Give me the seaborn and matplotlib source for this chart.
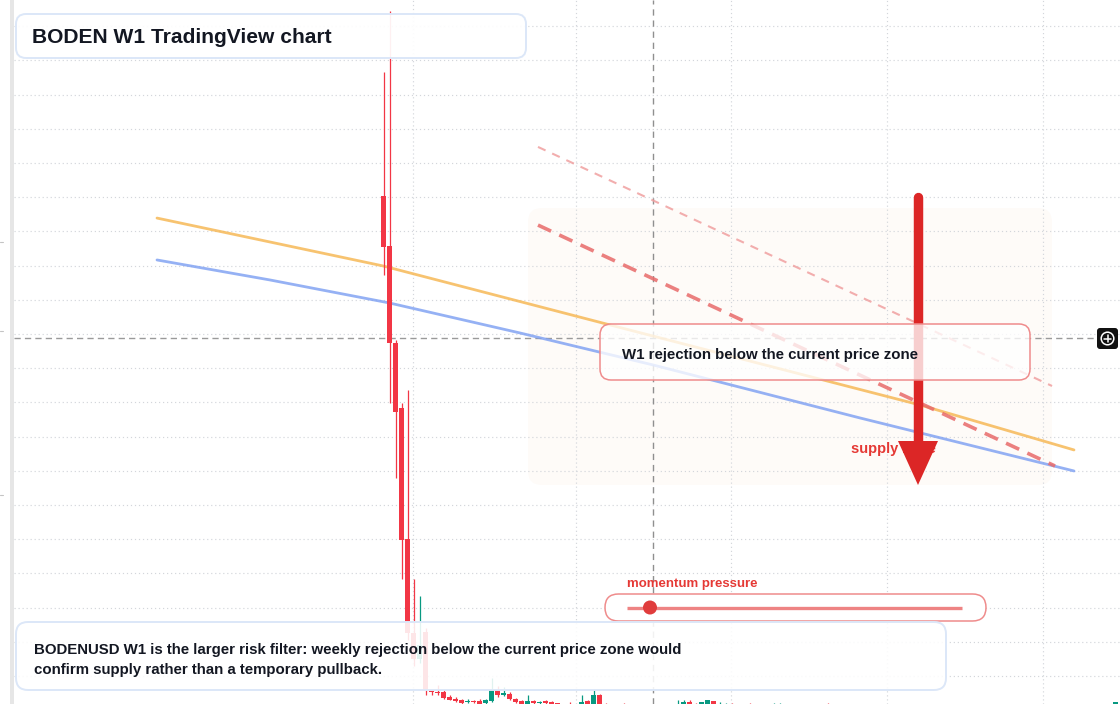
import numpy as np
import pandas as pd
import matplotlib
matplotlib.use("Agg")
import matplotlib.pyplot as plt
import seaborn as sns
from matplotlib.patches import FancyBboxPatch, Polygon, Circle, Rectangle
from matplotlib.lines import Line2D
from matplotlib.transforms import Affine2D

# ---------------- data (weekly candles, BODENUSD) ----------------
weeks = [0, 1, 2, 3, 4, 5, 6, 7, 8, 9, 10, 11, 12, 13, 14, 15, 16, 17, 18, 19,
         20, 21, 22, 23, 24, 25, 26, 27, 28, 29, 31, 33, 34, 35, 36, 37, 40,
         49, 50, 51, 52, 53, 54, 55, 56, 57, 58, 61, 65, 66, 74, 122]
opens = [0.3007, 0.2715, 0.2147, 0.1767, 0.1001, 0.0451, 0.0299, 0.0457, 0.0112, 0.0106,
         0.0106, 0.0077, 0.0065, 0.0060, 0.0048, 0.0054, 0.0054, 0.0042, 0.0054, 0.0118,
         0.0089, 0.0095, 0.0065, 0.0054, 0.0036, 0.0054, 0.0042, 0.0054, 0.0048, 0.0042,
         0.0032, 0.0030, 0.0054, 0.0030, 0.0089, 0.0033, 0.0032,
         0.0028, 0.0030, 0.0048, 0.0033, 0.0030, 0.0030, 0.0054, 0.0030, 0.0028, 0.0033,
         0.0033, 0.0028, 0.0028, 0.0033, 0.0030]
highs = [0.3732, 0.4089, 0.2165, 0.1797, 0.1873, 0.0767, 0.0668, 0.0481, 0.0118, 0.0147,
         0.0118, 0.0089, 0.0077, 0.0065, 0.0065, 0.0060, 0.0065, 0.0065, 0.0188, 0.0142,
         0.0136, 0.0106, 0.0071, 0.0060, 0.0089, 0.0060, 0.0051, 0.0060, 0.0051, 0.0045,
         0.0048, 0.0089, 0.0060, 0.0118, 0.0095, 0.0042, 0.0040,
         0.0060, 0.0060, 0.0060, 0.0045, 0.0050, 0.0062, 0.0055, 0.0048, 0.0045, 0.0042,
         0.0042, 0.0042, 0.0042, 0.0040, 0.0050]
lows = [0.2545, 0.1797, 0.1358, 0.0767, 0.0411, 0.0258, 0.0276, 0.0089, 0.0089, 0.0089,
        0.0065, 0.0060, 0.0048, 0.0036, 0.0042, 0.0042, 0.0030, 0.0030, 0.0048, 0.0077,
        0.0083, 0.0060, 0.0042, 0.0030, 0.0030, 0.0030, 0.0030, 0.0030, 0.0028, 0.0028,
        0.0024, 0.0026, 0.0026, 0.0026, 0.0026, 0.0024, 0.0022,
        0.0022, 0.0026, 0.0026, 0.0024, 0.0026, 0.0026, 0.0026, 0.0026, 0.0024, 0.0024,
        0.0024, 0.0024, 0.0024, 0.0024, 0.0026]
closes = [0.2709, 0.2147, 0.1744, 0.0995, 0.0451, 0.0299, 0.0381, 0.0118, 0.0106, 0.0098,
          0.0071, 0.0060, 0.0054, 0.0042, 0.0054, 0.0048, 0.0036, 0.0060, 0.0118, 0.0089,
          0.0101, 0.0065, 0.0048, 0.0036, 0.0054, 0.0042, 0.0048, 0.0042, 0.0036, 0.0034,
          0.0028, 0.0048, 0.0030, 0.0089, 0.0030, 0.0028, 0.0026,
          0.0034, 0.0048, 0.0030, 0.0028, 0.0048, 0.0060, 0.0030, 0.0034, 0.0032, 0.0029,
          0.0029, 0.0032, 0.0032, 0.0029, 0.0046]

# moving-average style overlays (week index, price)
ema_fast_x = [-37.75, -0.08, 37.75, 89.42, 115.08]
ema_fast_y = [0.2878, 0.2598, 0.2253, 0.1785, 0.1522]
ema_slow_x = [-37.75, -18.92, 0.92, 22.75, 44.92, 79.42, 115.08]
ema_slow_y = [0.2633, 0.2516, 0.2382, 0.2206, 0.2019, 0.1709, 0.1399]
# descending resistance projections
res_main_x = [25.75, 111.92]
res_main_y = [0.2837, 0.1428]
res_outer_x = [25.75, 111.42]
res_outer_y = [0.3294, 0.1896]

price_levels = [round(0.02 * k, 2) for k in range(1, 21)]
time_marks = [4.92, 32.08, 57.92, 83.92, 109.92]

title_text = "BODEN W1 TradingView chart"
box_text = "W1 rejection below the current price zone"
zone_text = "supply zone"
momentum_text = "momentum pressure"
note_lines = ["BODENUSD W1 is the larger risk filter: weekly rejection below the current price zone would",
              "confirm supply rather than a temporary pullback."]

# ---------------- style ----------------
sns.set_theme(style="white")
plt.rcParams['font.family'] = ['Liberation Sans', 'DejaVu Sans']

W, H = 1120, 704
fig = plt.figure(figsize=(W / 100, H / 100), dpi=100)
fig.patch.set_facecolor("white")
ax = fig.add_axes([14 / W, 0, (W - 14) / W, 1])
ax.set_facecolor("white")
for s in ax.spines.values():
    s.set_visible(False)

# pixel transform (x from left, y from top)
PX = Affine2D().scale(1 / W, -1 / H).translate(0, 1) + fig.transFigure

ax.set_xlim((14 - 383.5) / 6, (1120 - 383.5) / 6)
ax.set_ylim((710.2 - 704) * 0.02 / 34.2, 710.2 * 0.02 / 34.2)
ax.set_xticks(time_marks)
ax.set_yticks(price_levels)
ax.tick_params(length=0, labelbottom=False, labelleft=False)
ax.grid(True, color="#d3d6db", linestyle=(0, (1, 2.4)), linewidth=0.85)
ax.set_axisbelow(True)

# left gray strip and small outer ticks
fig.patches.append(Rectangle((10, 0), 4, H, transform=PX, facecolor="#e6e6e6",
                             edgecolor="none", zorder=0))
for ty in [242, 331, 495]:
    fig.lines.append(Line2D([0, 3], [ty, ty], transform=PX, color="#c4c4c4", lw=0.8))

# supply zone shading
ax.add_patch(FancyBboxPatch((528, 208), 524, 277, boxstyle="round,pad=0,rounding_size=14",
                            transform=PX, facecolor="#fdf3ea", edgecolor="none",
                            alpha=0.32, zorder=0.3))

# crosshair
ax.axvline((653 - 383.5) / 6, color="#8f8f8f", lw=1.0, ls=(0, (4.5, 3.5)), zorder=1.5)
ax.add_line(Line2D([14, 1097], [338, 338], transform=PX, color="#9a9a9a", lw=1.0,
                   ls=(0, (4.5, 3)), zorder=1.5))

# moving averages
ema_df = pd.DataFrame({"x": ema_fast_x + ema_slow_x,
                       "y": ema_fast_y + ema_slow_y,
                       "s": ["fast"] * len(ema_fast_x) + ["slow"] * len(ema_slow_x)})
sns.lineplot(data=ema_df, x="x", y="y", hue="s", palette={"fast": "#f6b651", "slow": "#7ea0f2"},
             linewidth=2.0, alpha=0.82, legend=False, ax=ax, zorder=2, sort=False)

# candles
df = pd.DataFrame({"w": weeks, "o": opens, "h": highs, "l": lows, "c": closes})
up = df["c"] >= df["o"]
col = np.where(up, "#089981", "#f23645")
ax.vlines(df["w"], df["l"], df["h"], colors=col, linewidth=0.9, zorder=3)
body_lo = np.minimum(df["o"], df["c"])
body_h = np.maximum((df["c"] - df["o"]).abs(), 0.0006)
ax.bar(df["w"], body_h, bottom=body_lo, width=0.83, color=col, edgecolor="none",
       linewidth=0, zorder=3.1)

# resistance projections
res_df = pd.DataFrame({"x": res_main_x + res_outer_x, "y": res_main_y + res_outer_y,
                       "s": ["main"] * 2 + ["outer"] * 2})
sns.lineplot(data=res_df[res_df.s == "main"], x="x", y="y", color="#e86a6a", alpha=0.85,
             linewidth=2.6, ax=ax, zorder=3.5, legend=False)
ax.lines[-1].set_linestyle((0, (4, 2.5)))
sns.lineplot(data=res_df[res_df.s == "outer"], x="x", y="y", color="#f0a0a0", alpha=0.85,
             linewidth=1.5, ax=ax, zorder=3.5, legend=False)
ax.lines[-1].set_linestyle((0, (4, 3.5)))

# supply zone label + arrow
ax.text(851, 449, zone_text, transform=PX, color="#e53935", fontsize=10.5,
        fontweight="bold", va="center", ha="left", zorder=4.5)
ax.add_line(Line2D([918, 918], [197, 446], transform=PX, color="#dc2626", lw=6.8,
                   solid_capstyle="round", zorder=5))
ax.add_patch(Polygon([(898, 441), (938, 441), (918, 485)], closed=True, transform=PX,
                     facecolor="#dc2626", edgecolor="none", zorder=5))

# main callout box
ax.add_patch(FancyBboxPatch((600, 324), 430, 56, boxstyle="round,pad=0,rounding_size=11",
                            transform=PX, facecolor=(1, 1, 1, 0.78), edgecolor="#ef8c8c",
                            linewidth=1.1, zorder=6))
ax.text(622, 355.5, box_text, transform=PX, color="#131722", fontsize=10.8,
        fontweight="bold", va="center", ha="left", zorder=7)

# title box
ax.add_patch(FancyBboxPatch((16, 14), 510, 44, boxstyle="round,pad=0,rounding_size=10",
                            transform=PX, facecolor=(1, 1, 1, 0.93), edgecolor="#dce7f8",
                            linewidth=1.4, zorder=6))
ax.text(32, 37.5, title_text, transform=PX, color="#131722", fontsize=15.1,
        fontweight="bold", va="center", ha="left", zorder=7)

# momentum pill
ax.text(627, 584, momentum_text, transform=PX, color="#e53935", fontsize=9.5,
        fontweight="bold", va="center", ha="left", zorder=7)
ax.add_patch(FancyBboxPatch((605, 594), 381, 27, boxstyle="round,pad=0,rounding_size=13.5",
                            transform=PX, facecolor="white", edgecolor="#ef8c8c",
                            linewidth=1.1, zorder=6))
ax.add_line(Line2D([627, 962], [607.5, 607.5], transform=PX, color="#ee8383", lw=2.4,
                   solid_capstyle="butt", zorder=7))
ax.add_patch(Circle((650, 607.5), 7, transform=PX, facecolor="#e03c3c", edgecolor="none",
                    zorder=7.5))

# bottom note box
ax.add_patch(FancyBboxPatch((16, 622), 930, 68, boxstyle="round,pad=0,rounding_size=12",
                            transform=PX, facecolor=(1, 1, 1, 0.88), edgecolor="#dce7f8",
                            linewidth=1.4, zorder=6))
ax.text(34, 650, note_lines[0], transform=PX, color="#131722", fontsize=10.8,
        fontweight="bold", va="center", ha="left", zorder=7)
ax.text(34, 670, note_lines[1], transform=PX, color="#131722", fontsize=10.8,
        fontweight="bold", va="center", ha="left", zorder=7)

# price-axis crosshair icon
ax.add_patch(FancyBboxPatch((1097, 328), 21, 21, boxstyle="round,pad=0,rounding_size=3",
                            transform=PX, facecolor="#111111", edgecolor="none",
                            zorder=8, clip_on=False))
ax.add_patch(Circle((1107.5, 338.5), 6.3, transform=PX, facecolor="none", edgecolor="white",
                    linewidth=1.1, zorder=9, clip_on=False))
ax.add_line(Line2D([1104, 1111], [338.5, 338.5], transform=PX, color="white", lw=1.1,
                   zorder=9, clip_on=False))
ax.add_line(Line2D([1107.5, 1107.5], [335, 342], transform=PX, color="white", lw=1.1,
                   zorder=9, clip_on=False))

fig.savefig("out.png", dpi=100)
